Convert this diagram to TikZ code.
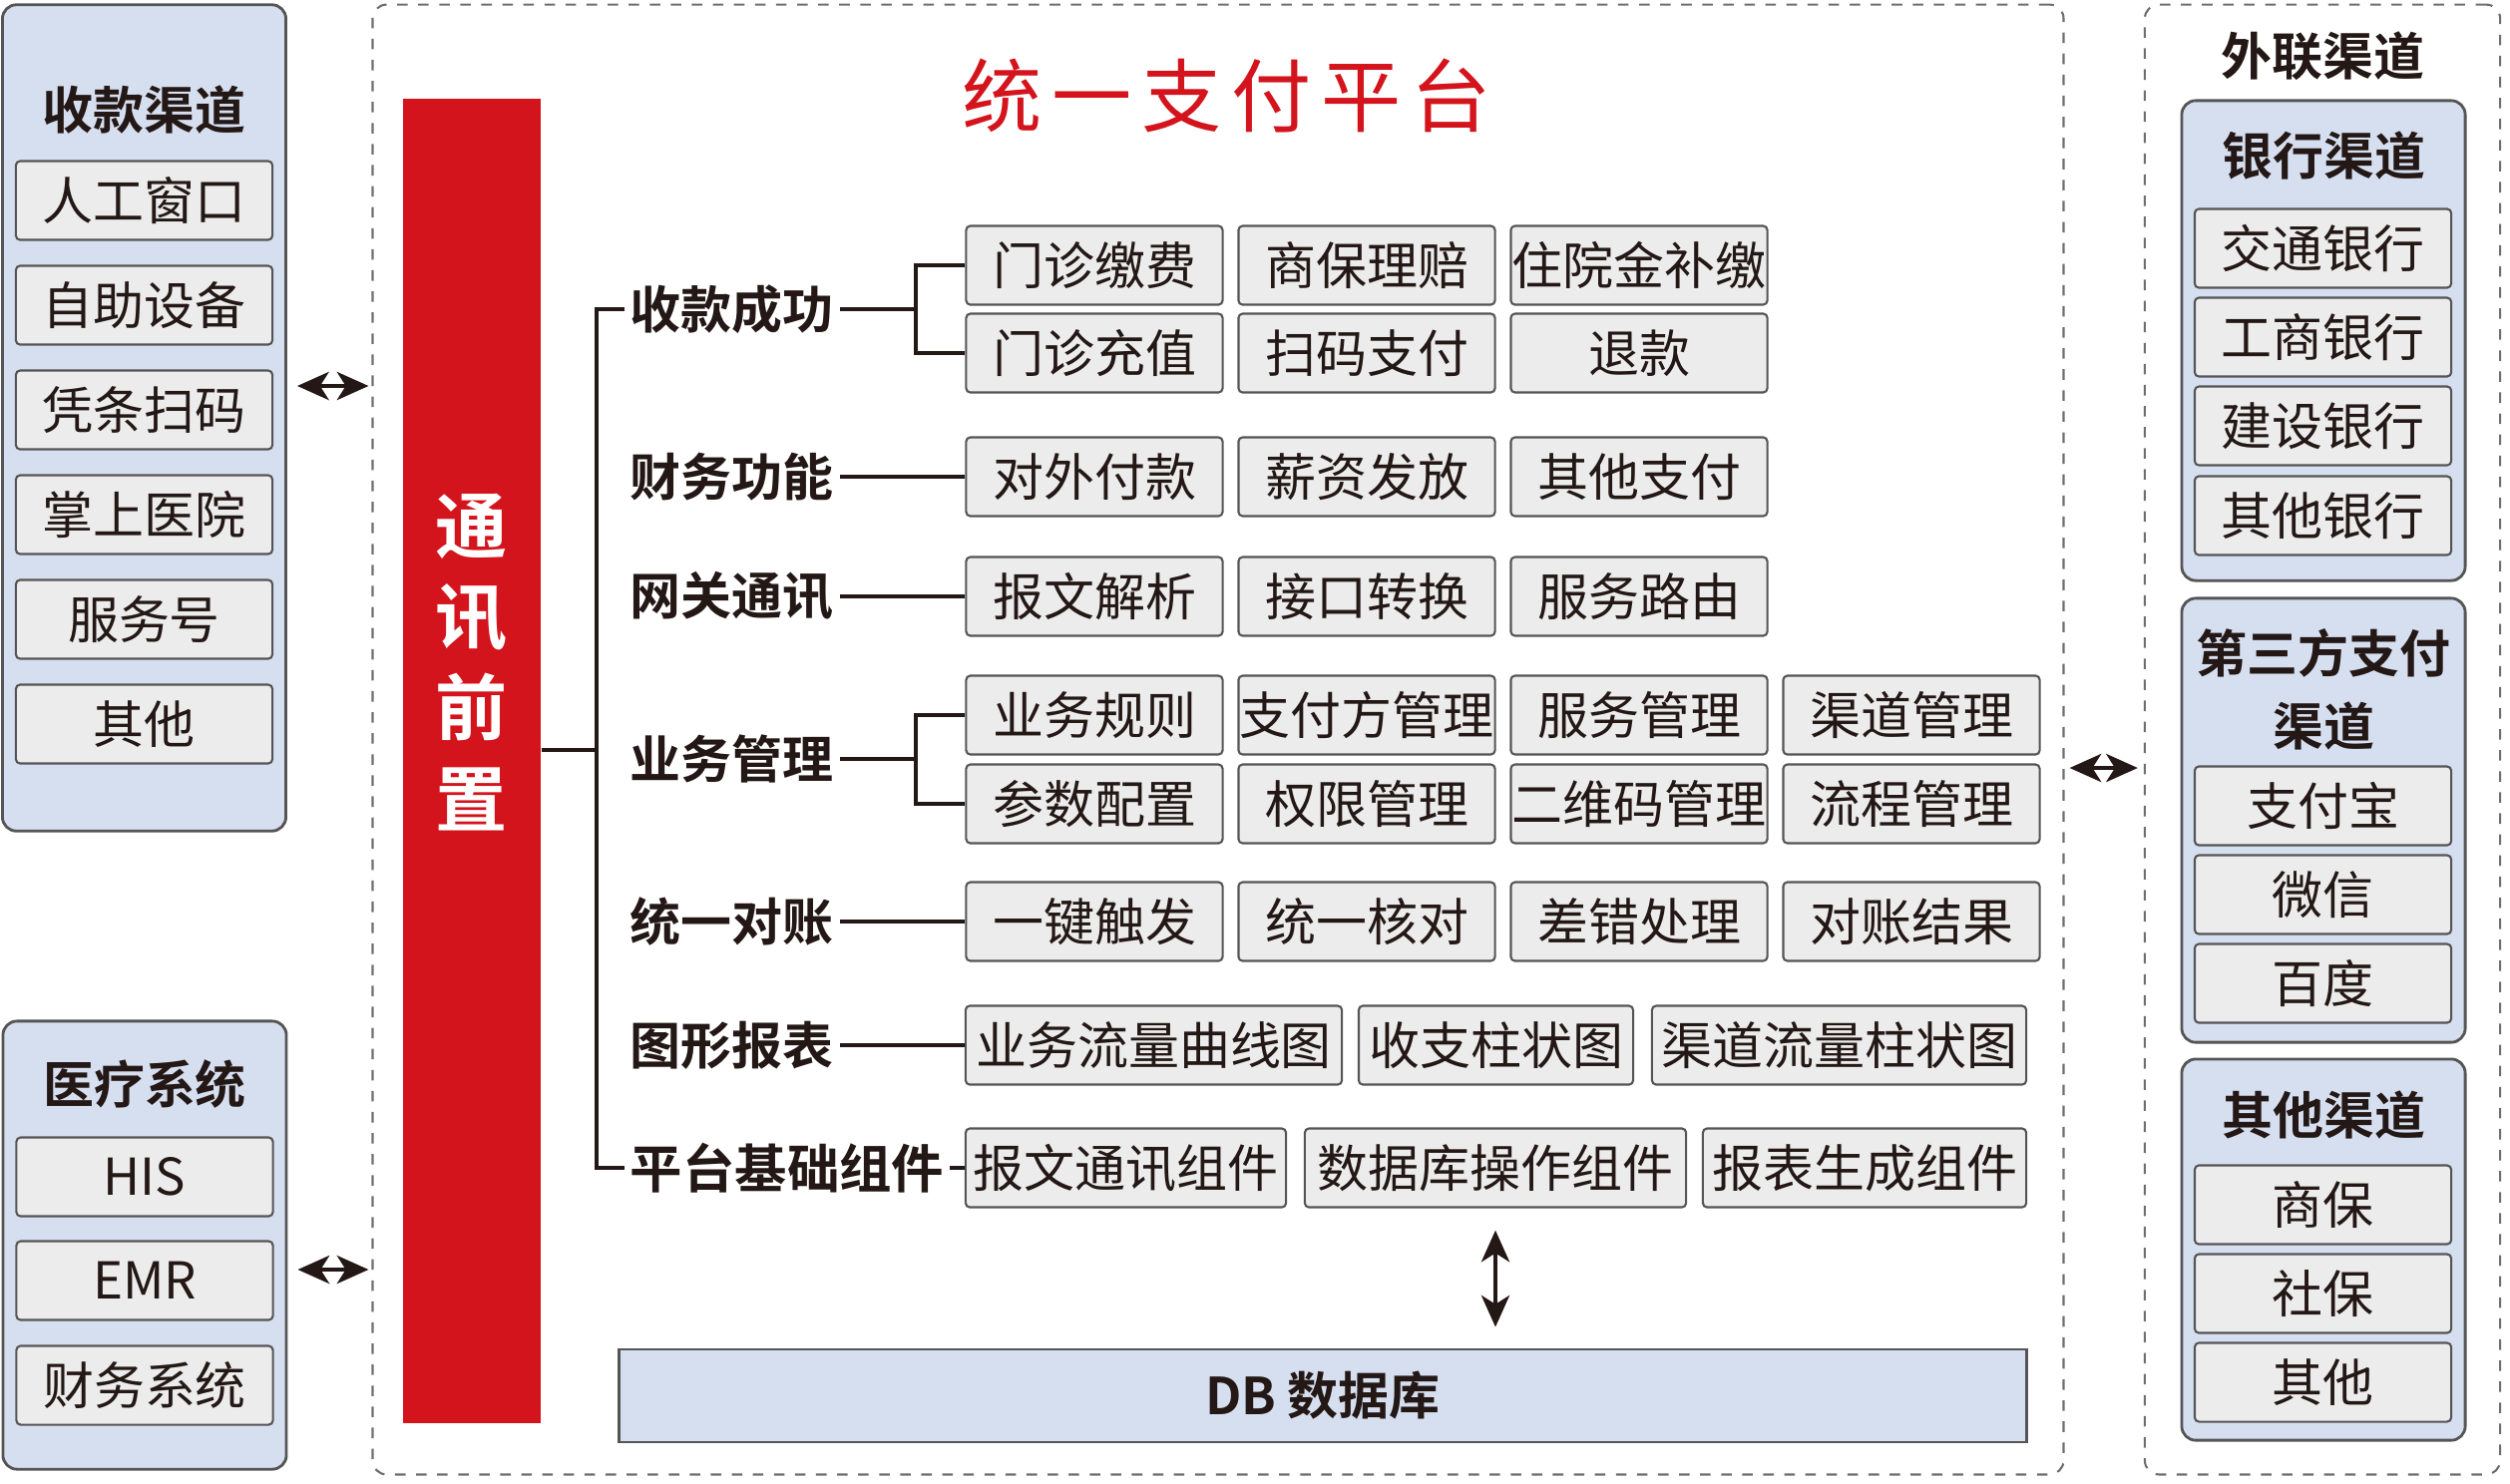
\documentclass[tikz,border=0pt]{standalone}
\usepackage{fontspec}
\setmainfont{Noto Sans CJK SC}[BoldFont={Noto Sans CJK SC Bold}]
\usetikzlibrary{arrows.meta}
\begin{document}
\begin{tikzpicture}[x=0.01cm,y=-0.01cm]
	\definecolor{hong}{RGB}{212,20,28}
	\definecolor{lan}{RGB}{214,223,240}
	\definecolor{hui}{RGB}{236,236,236}
	\definecolor{bian}{RGB}{85,85,85}
	\definecolor{xu}{RGB}{110,110,110}
	\definecolor{mo}{RGB}{35,24,21}
	\tikzset{
		xiang/.style={draw=bian,fill=hui,line width=0.6pt,rounded corners=1.2pt,minimum width=2.57cm,minimum height=0.79cm,inner sep=0pt,text=mo,font=\fontsize{14.5}{17}\selectfont},
		zu/.style={draw=bian,fill=lan,line width=0.8pt,rounded corners=4pt,minimum width=2.84cm},
		biaoti/.style={text=mo,inner sep=1.5pt,font=\fontsize{14.5}{20.8}\selectfont\bfseries},
		xuxian/.style={draw=xu,line width=0.6pt,dash pattern=on 3pt off 3pt,rounded corners=4pt},
		xian/.style={draw=mo,line width=1.4pt},
		shuang/.style={draw=mo,line width=1.2pt,arrows={Stealth[length=9pt,width=8pt,inset=2.5pt]-Stealth[length=9pt,width=8pt,inset=2.5pt]}}
	}
	\useasboundingbox (0,0) rectangle (2516,1487);
	
	%Khung
	\node[xuxian,minimum width=16.94cm,minimum height=14.73cm] (pingtai) at (1221,741.5) {};
	\node[xuxian,minimum width=3.56cm,minimum height=14.73cm] (wailian) at (2328,741.5) {};
	\node[text=hong,font=\fontsize{22.8}{27}\selectfont] (tieude) at (1230,96) {统\hspace{2.8pt}一\hspace{2.8pt}支\hspace{2.8pt}付\hspace{2.8pt}平\hspace{2.8pt}台};
	
	%Trai
	\node[zu,minimum height=8.28cm] (skqd) at (144.5,419) {};
	\node[biaoti] (skqdt) at (144.5,110) {收款渠道};
	\foreach \y/\ming/\wen in {
		201/rgck/人工窗口,
		306/zzsb/自助设备,
		411/ptsm/凭条扫码,
		516/zsyy/掌上医院,
		621/fwh/服务号,
		726/qita/其他
	}{
		\node[xiang] (\ming) at (144.5,\y) {\wen};
	}
	\node[zu,minimum height=4.49cm] (ylxt) at (145,1248.5) {};
	\node[biaoti] (ylxtt) at (145,1087) {医疗系统};
	\foreach \y/\ming/\wen in {
		1180/his/HIS,
		1284/emr/EMR,
		1389/cwxt/财务系统
	}{
		\node[xiang] (\ming) at (145,\y) {\wen};
	}
	
	%Phai
	\node[biaoti] (wlqdt) at (2328,56) {外联渠道};
	\node[zu,minimum height=4.81cm] (yhqd) at (2329,341.5) {};
	\node[biaoti] (yhqdt) at (2329,156) {银行渠道};
	\node[zu,minimum height=4.45cm] (dsf) at (2329,822.5) {};
	\node[biaoti,align=center] (dsft) at (2329,691) {第三方支付\\渠道};
	\node[zu,minimum height=3.82cm] (qtqd) at (2329,1253) {};
	\node[biaoti] (qtqdt) at (2329,1118) {其他渠道};
	\foreach \y/\ming/\wen in {
		249/jtyh/交通银行,
		338/gsyh/工商银行,
		427/jsyh/建设银行,
		517/qtyh/其他银行,
		808/zfb/支付宝,
		897/wx/微信,
		986/bd/百度,
		1208/sb/商保,
		1297/shb/社保,
		1386/qita2/其他
	}{
		\node[xiang] (\ming) at (2328.5,\y) {\wen};
	}
	
	%Giua
	\node[fill=hong,minimum width=1.38cm,minimum height=13.28cm,inner sep=0pt] (qianzhi) at (473,763) {};
	\node[text=white,align=center,font=\fontsize{20.5}{25.9}\selectfont\bfseries] (qzwen) at (473,664) {通\\讯\\前\\置};
	\foreach \y/\ming/\wen in {
		310/skcg/收款成功,
		478/cwgn/财务功能,
		598/wgtx/网关通讯,
		761/ywgl/业务管理,
		924/tydz/统一对账,
		1048/txbb/图形报表
	}{
		\node[biaoti,anchor=west] (\ming) at (626,\y) {\wen};
	}
	\node[biaoti,anchor=west,font=\fontsize{14.9}{20}\selectfont\bfseries] (ptjc) at (626,1171) {平台基础组件};
	\foreach \x/\y/\ming/\wen in {
		1097/266/mzjf/门诊缴费,
		1370/266/sblp/商保理赔,
		1643/266/zyjbj/住院金补缴,
		1097/354/mzcz/门诊充值,
		1370/354/smzf/扫码支付,
		1643/354/tk/退款,
		1097/478/dwfk/对外付款,
		1370/478/xzff/薪资发放,
		1643/478/qtzf/其他支付,
		1097/598/bwjx/报文解析,
		1370/598/jkzh/接口转换,
		1643/598/fwly/服务路由,
		1097/717/ywgz/业务规则,
		1370/717/zffgl/支付方管理,
		1643/717/fwgl/服务管理,
		1916/717/qdgl/渠道管理,
		1097/806/cspz/参数配置,
		1370/806/qxgl/权限管理,
		1643/806/ewmgl/二维码管理,
		1916/806/lcgl/流程管理,
		1097/924/yjcf/一键触发,
		1370/924/tyhd/统一核对,
		1643/924/cccl/差错处理,
		1916/924/dzjg/对账结果
	}{
		\node[xiang] (\ming) at (\x,\y) {\wen};
	}
	\foreach \x/\y/\rong/\ming/\wen in {
		1156.5/1048/3.77/ywllqxt/业务流量曲线图,
		1499.5/1048/2.75/szzzt/收支柱状图,
		1843.5/1048/3.75/qdllzzt/渠道流量柱状图,
		1128.5/1171/3.21/bwtxzj/报文通讯组件,
		1499/1171/3.82/sjkczzj/数据库操作组件,
		1869/1171/3.24/bbsczj/报表生成组件
	}{
		\node[xiang,minimum width=\rong cm] (\ming) at (\x,\y) {\wen};
	}
	\node[draw=bian,fill=lan,line width=0.8pt,minimum width=14.10cm,minimum height=0.93cm,text=mo,font=\fontsize{14.5}{17}\selectfont\bfseries] (db) at (1326,1399.5) {DB 数据库};
	
	%Duong noi
	\coordinate (gan) at (598,752);
	\coordinate (cha1) at (918,310);
	\coordinate (cha2) at (918,761);
	\draw[xian] (skcg.west) -| (gan) |- (ptjc.west);
	\draw[xian] (qianzhi.east |- gan) -- (gan);
	\draw[xian] (skcg.east) -- (cha1);
	\draw[xian] (mzjf.west) -| (cha1) |- (mzcz.west);
	\draw[xian] (ywgl.east) -- (cha2);
	\draw[xian] (ywgz.west) -| (cha2) |- (cspz.west);
	\draw[xian] (cwgn.east) -- (dwfk.west);
	\draw[xian] (wgtx.east) -- (bwjx.west);
	\draw[xian] (tydz.east) -- (yjcf.west);
	\draw[xian] (txbb.east) -- (ywllqxt.west);
	\draw[xian] (ptjc.east) -- (bwtxzj.west);
	
	%Mui ten
	\draw[shuang,shorten <=0.1cm,shorten >=0.03cm] (skqd.east |- 0,387) -- (pingtai.west |- 0,387);
	\draw[shuang,shorten <=0.1cm,shorten >=0.03cm] (ylxt.east |- 0,1273) -- (pingtai.west |- 0,1273);
	\draw[shuang,shorten <=0.05cm,shorten >=0.06cm] (pingtai.east |- 0,770) -- (wailian.west |- 0,770);
	\draw[shuang,shorten <=0.22cm,shorten >=0.21cm] (sjkczzj.south) -- (sjkczzj.south |- db.north);
\end{tikzpicture}
\end{document}
